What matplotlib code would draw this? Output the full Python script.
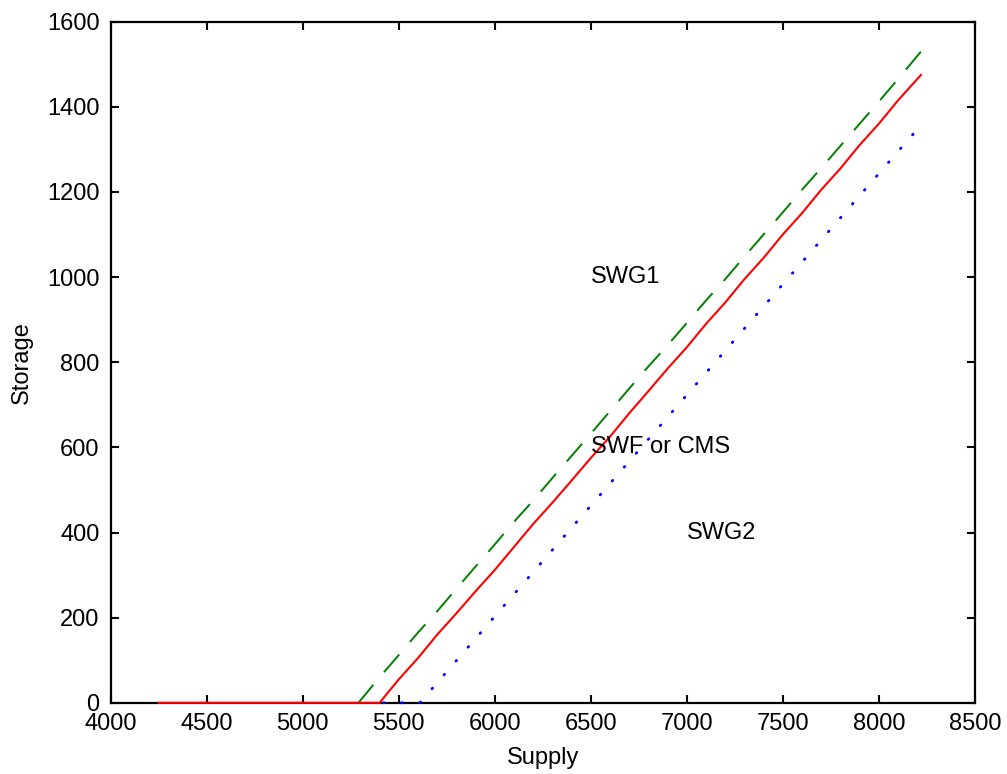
import matplotlib.pyplot as plt

plt.rcParams["font.family"] = ["Liberation Sans", "DejaVu Sans"]

supply_red = [4250, 5400, 5500, 5600, 5700, 5800, 5900, 6000, 6100, 6200, 6300,
              6400, 6500, 6600, 6700, 6800, 6900, 7000, 7100, 7200, 7300, 7400,
              7500, 7600, 7700, 7800, 7900, 8000, 8100, 8220]
storage_red = [0, 0, 55, 105, 160, 210, 262, 312, 366, 420, 470,
               522, 575, 625, 680, 732, 785, 835, 890, 940, 995, 1045,
               1100, 1150, 1205, 1255, 1310, 1360, 1415, 1475]

supply_green = [5290, 5400, 5500, 5600, 5700, 5800, 5900, 6000, 6100, 6200,
                6300, 6400, 6500, 6600, 6700, 6800, 6900, 7000, 7100, 7200, 7300,
                7400, 7500, 7600, 7700, 7800, 7900, 8000, 8100, 8220]
storage_green = [0, 60, 112, 165, 215, 268, 320, 372, 425, 475,
                 528, 580, 632, 685, 738, 790, 840, 892, 945, 995, 1048,
                 1100, 1152, 1205, 1256, 1308, 1360, 1412, 1465, 1530]

supply_blue = [5420, 5610, 5700, 5800, 5900, 6000, 6100, 6200, 6300, 6400, 6500,
               6600, 6700, 6800, 6900, 7000, 7100, 7200, 7300, 7400, 7500, 7600,
               7700, 7800, 7900, 8000, 8100, 8230]
storage_blue = [0, 0, 47, 99, 151, 203, 255, 307, 359, 411, 463,
                515, 567, 619, 671, 723, 775, 827, 879, 931, 983, 1035,
                1087, 1139, 1191, 1243, 1295, 1362]

region_labels = ["SWG1", "SWF or CMS", "SWG2"]
region_x = [6500, 6500, 7000]
region_y = [1000, 600, 400]

fig = plt.figure(figsize=(10.07, 7.74), dpi=100)
ax = fig.add_axes([0.110, 0.092, 0.858, 0.880])

ax.plot(supply_blue, storage_blue, color="blue", lw=2.0,
        linestyle=(0, (0.3, 6.3)), dash_capstyle="round",
        clip_on=False, zorder=3)
ax.plot(supply_green, storage_green, color="green", lw=1.4,
        linestyle=(0, (12, 8.5)), clip_on=False, zorder=3)
ax.plot(supply_red, storage_red, color="red", lw=1.5, clip_on=False, zorder=3)

for label, x, y in zip(region_labels, region_x, region_y):
    ax.text(x, y, label, fontsize=17, ha="left", va="center")

ax.set_xlim(4000, 8500)
ax.set_ylim(0, 1600)
ax.set_xticks(range(4000, 8501, 500))
ax.set_yticks(range(0, 1601, 200))
ax.tick_params(direction="in", length=6, width=1.5, top=True, right=True,
               labelsize=17)
ax.tick_params(axis="x", pad=7)
ax.tick_params(axis="y", pad=8)
for s in ax.spines.values():
    s.set_linewidth(1.6)

ax.set_xlabel("Supply", fontsize=17, labelpad=9)
ax.set_ylabel("Storage", fontsize=17, labelpad=10)

fig.savefig("out.png", dpi=100)
